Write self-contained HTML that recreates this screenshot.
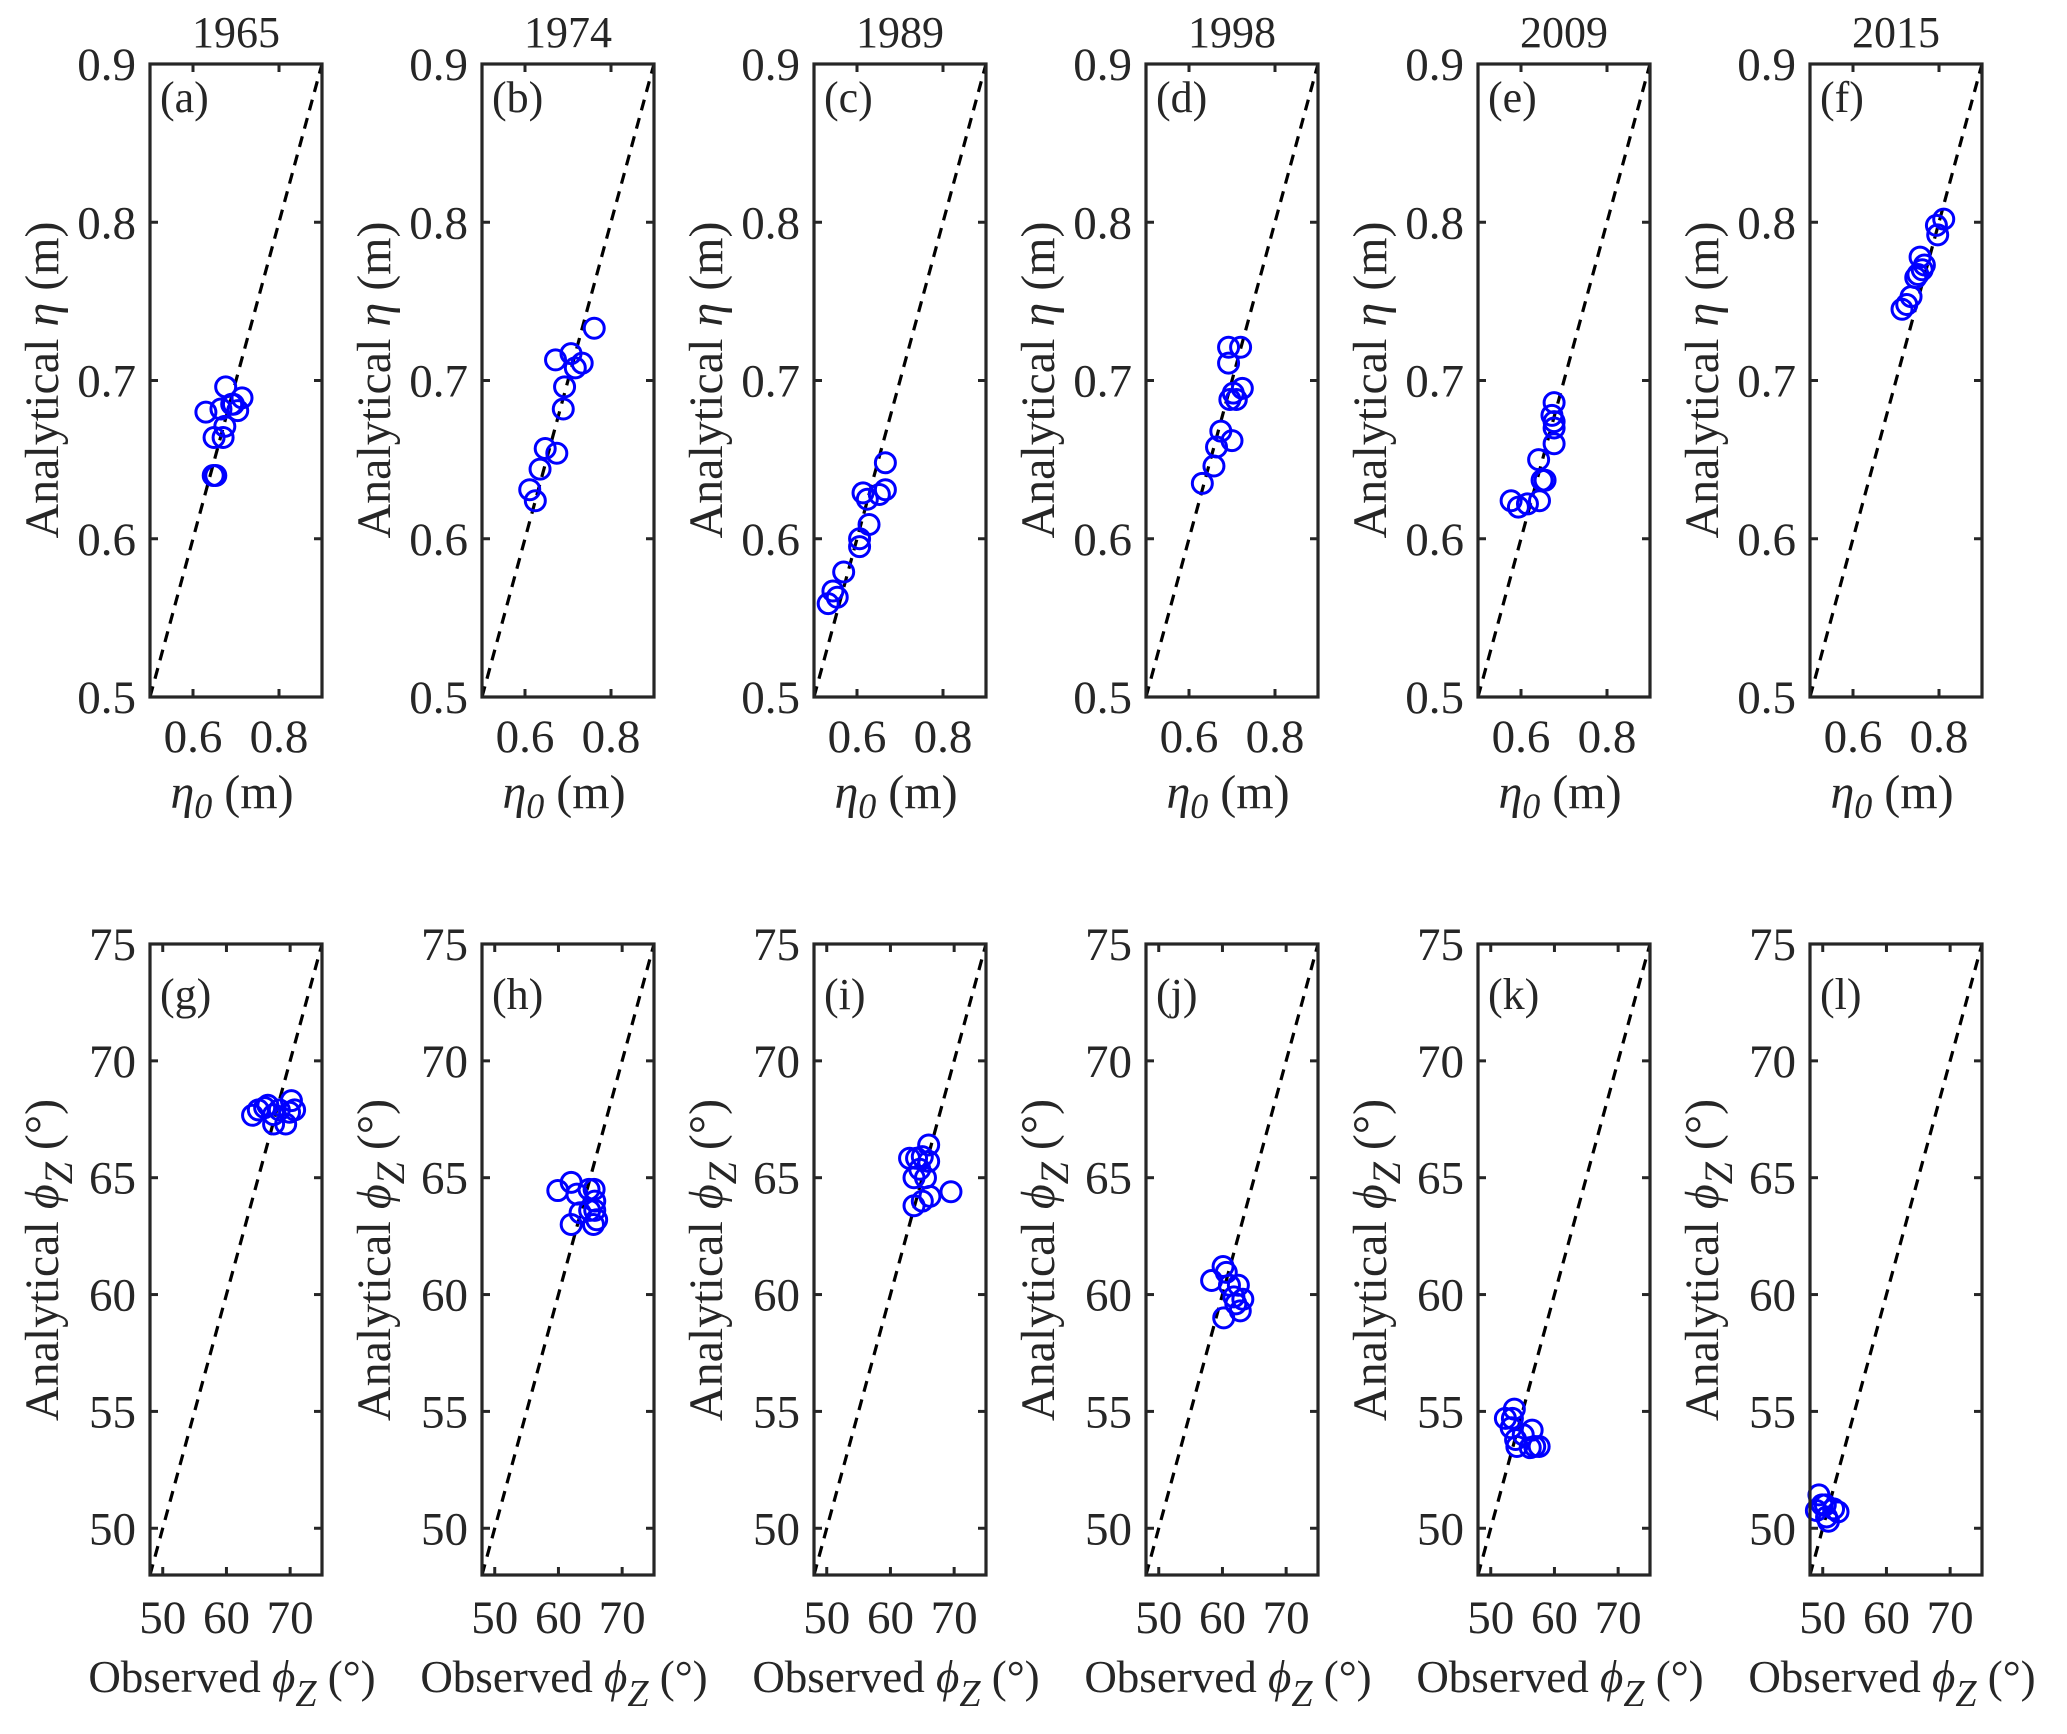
<!DOCTYPE html>
<html><head><meta charset="utf-8">
<style>
html,body{margin:0;padding:0;background:#fff;}
svg{display:block;}
svg text{font-family:"Liberation Serif","Times New Roman",Times,serif;fill:#262626;}
</style></head>
<body>
<svg id="fig" width="2067" height="1734" viewBox="0 0 2067 1734" xmlns="http://www.w3.org/2000/svg" font-family="Liberation Serif, Times New Roman, serif"></svg>
<script>
const years = ["1965","1974","1989","1998","2009","2015"];
const topLetters = ["(a)","(b)","(c)","(d)","(e)","(f)"];
const botLetters = ["(g)","(h)","(i)","(j)","(k)","(l)"];
const etaTicksY = [0.5,0.6,0.7,0.8,0.9];
const etaTicksX = [0.6,0.8];
const phiTicksY = [50,55,60,65,70,75];
const phiTicksX = [50,60,70];
const etaObsA = [0.630,0.647,0.653,0.649,0.670,0.674,0.665,0.676,0.690,0.704,0.714,0.694];
const etaAnaA = [0.680,0.640,0.640,0.664,0.664,0.671,0.682,0.696,0.685,0.681,0.689,0.685];
const etaObsB = [0.611,0.624,0.635,0.647,0.674,0.671,0.689,0.692,0.707,0.717,0.733,0.761];
const etaAnaB = [0.631,0.624,0.644,0.657,0.654,0.713,0.682,0.696,0.717,0.708,0.711,0.733];
const etaObsC = [0.533,0.544,0.554,0.569,0.606,0.606,0.628,0.614,0.624,0.652,0.666,0.666];
const etaAnaC = [0.559,0.567,0.563,0.579,0.595,0.600,0.609,0.629,0.625,0.628,0.631,0.648];
const etaObsD = [0.631,0.658,0.664,0.674,0.700,0.695,0.703,0.710,0.724,0.692,0.692,0.720];
const etaAnaD = [0.635,0.646,0.658,0.668,0.662,0.688,0.692,0.688,0.695,0.711,0.721,0.721];
const etaObsE = [0.577,0.594,0.615,0.643,0.649,0.656,0.641,0.677,0.677,0.677,0.672,0.677];
const etaAnaE = [0.624,0.620,0.622,0.624,0.637,0.637,0.650,0.660,0.670,0.674,0.678,0.686];
const etaObsF = [0.714,0.725,0.735,0.746,0.751,0.761,0.766,0.756,0.797,0.794,0.811];
const etaAnaF = [0.745,0.748,0.753,0.765,0.767,0.770,0.773,0.778,0.792,0.798,0.802];
const phiObsG = [64.1,65.0,66.0,66.5,67.4,67.4,68.3,69.3,69.9,70.2,70.7];
const phiAnaG = [67.67,67.9,68.0,68.1,67.7,67.3,67.9,67.3,67.8,68.3,67.9];
const phiObsH = [59.9,62.0,62.9,62.0,63.4,64.8,65.6,65.7,65.7,66.0,65.5,64.9];
const phiAnaH = [64.45,64.8,64.3,63.0,63.5,64.5,64.5,64.0,63.6,63.2,63.0,63.6];
const phiObsI = [63.0,64.1,65.0,66.0,66.0,63.7,65.5,63.7,65.0,66.2,69.5,64.6];
const phiAnaI = [65.83,65.83,65.9,66.4,65.7,65.0,65.0,63.8,64.0,64.2,64.4,65.36];
const phiObsJ = [58.3,60.1,60.6,61.1,62.5,61.8,63.2,62.1,62.8,60.2];
const phiAnaJ = [60.6,61.2,60.95,60.4,60.4,59.9,59.8,59.6,59.3,59.0];
const phiObsK = [52.3,53.7,53.4,53.2,53.9,54.1,55.1,56.5,56.9,57.6,56.2];
const phiAnaK = [54.7,55.1,54.7,54.3,53.8,53.5,54.0,54.2,53.5,53.5,53.45];
const phiObsL = [49.0,49.4,49.9,50.6,50.9,51.7,52.4,50.4];
const phiAnaL = [50.76,51.43,51.0,50.48,50.3,50.83,50.7,51.0];

const topObs=[etaObsA,etaObsB,etaObsC,etaObsD,etaObsE,etaObsF];
const topAna=[etaAnaA,etaAnaB,etaAnaC,etaAnaD,etaAnaE,etaAnaF];
const botObs=[phiObsG,phiObsH,phiObsI,phiObsJ,phiObsK,phiObsL];
const botAna=[phiAnaG,phiAnaH,phiAnaI,phiAnaJ,phiAnaK,phiAnaL];

const NS="http://www.w3.org/2000/svg";
const svg=document.getElementById('fig');
function mk(tag,attrs,parent){const e=document.createElementNS(NS,tag);for(const k in attrs)e.setAttribute(k,attrs[k]);(parent||svg).appendChild(e);return e;}

const W=172, LEFT0=150, STEP=332;
const rows=[
 {top:64,bot:697,min:0.5,max:0.9,ty:etaTicksY,tx:etaTicksX,fmt:v=>v.toFixed(1),obs:topObs,ana:topAna,letters:topLetters,letterY:112,tickLabY:752,xlabY:808,ylabCY:380,kind:'eta'},
 {top:944,bot:1575,min:48,max:75,ty:phiTicksY,tx:phiTicksX,fmt:v=>String(v),obs:botObs,ana:botAna,letters:botLetters,letterY:1009,tickLabY:1633,xlabY:1692,ylabCY:1260,kind:'phi'}
];

rows.forEach((r,ri)=>{
 for(let p=0;p<6;p++){
  const L=LEFT0+p*STEP, R=L+W;
  const sx=v=>L+(v-r.min)/(r.max-r.min)*W;
  const sy=v=>r.bot-(v-r.min)/(r.max-r.min)*(r.bot-r.top);
  const g=mk('g',{});
  
  
  if(ri===0){
   const t=mk('text',{x:L+W/2,y:47,'text-anchor':'middle','font-size':44,fill:'#000'},g);
   t.textContent=years[p];
   
   
  }
  const d=mk('line',{x1:sx(r.min),y1:sy(r.min),x2:sx(r.max),y2:sy(r.max),stroke:'#000','stroke-width':3.2,'stroke-dasharray':'11,8'},g);
  
  
  r.obs[p].forEach((v,i)=>{
   const c=mk('circle',{cx:sx(v),cy:sy(r.ana[p][i]),r:10,fill:'none',stroke:'#0000ff','stroke-width':3},g);
   
   
  });
  const b=mk('rect',{x:L,y:r.top,width:W,height:r.bot-r.top,fill:'none',stroke:'#262626','stroke-width':3.2},g);
  
  
  r.ty.forEach(v=>{
   const y=sy(v);
   mk('line',{x1:L,y1:y,x2:L+8,y2:y,stroke:'#262626','stroke-width':3},g);
   mk('line',{x1:R,y1:y,x2:R-8,y2:y,stroke:'#262626','stroke-width':3},g);
   const t=mk('text',{x:L-14,y:y+16,'text-anchor':'end','font-size':47},g);
   t.textContent=r.fmt(v);
   
   
  });
  r.tx.forEach(v=>{
   const x=sx(v);
   mk('line',{x1:x,y1:r.bot,x2:x,y2:r.bot-8,stroke:'#262626','stroke-width':3},g);
   mk('line',{x1:x,y1:r.top,x2:x,y2:r.top+8,stroke:'#262626','stroke-width':3},g);
   const t=mk('text',{x:x,y:r.tickLabY,'text-anchor':'middle','font-size':47},g);
   t.textContent=r.fmt(v);
   
   
  });
  const lt=mk('text',{x:L+10,y:r.letterY,'font-size':44,fill:'#000'},g);
  lt.textContent=r.letters[p];
  
  
  const xl=mk('text',{x:L+W/2-4,y:r.xlabY,'text-anchor':'middle','font-size':r.kind==='eta'?48:45},g);
  
  
  const yl=mk('text',{transform:`translate(${L-92},${r.ylabCY}) rotate(-90)`,'text-anchor':'middle','font-size':48},g);
  
  
  if(r.kind==='eta'){
   xl.innerHTML='<tspan font-style="italic">η</tspan><tspan font-style="italic" font-size="36" dy="10">0</tspan><tspan dy="-10"> (m)</tspan>';
   yl.innerHTML='Analytical <tspan font-style="italic">η</tspan> (m)';
  } else {
   xl.innerHTML='Observed <tspan font-style="italic">ϕ</tspan><tspan font-style="italic" font-size="38" dy="14">Z</tspan><tspan dy="-14"> (°)</tspan>';
   yl.innerHTML='Analytical <tspan font-style="italic">ϕ</tspan><tspan font-style="italic" font-size="40" dy="14">Z</tspan><tspan dy="-14"> (°)</tspan>';
  }
 }
});
</script>
</body></html>
